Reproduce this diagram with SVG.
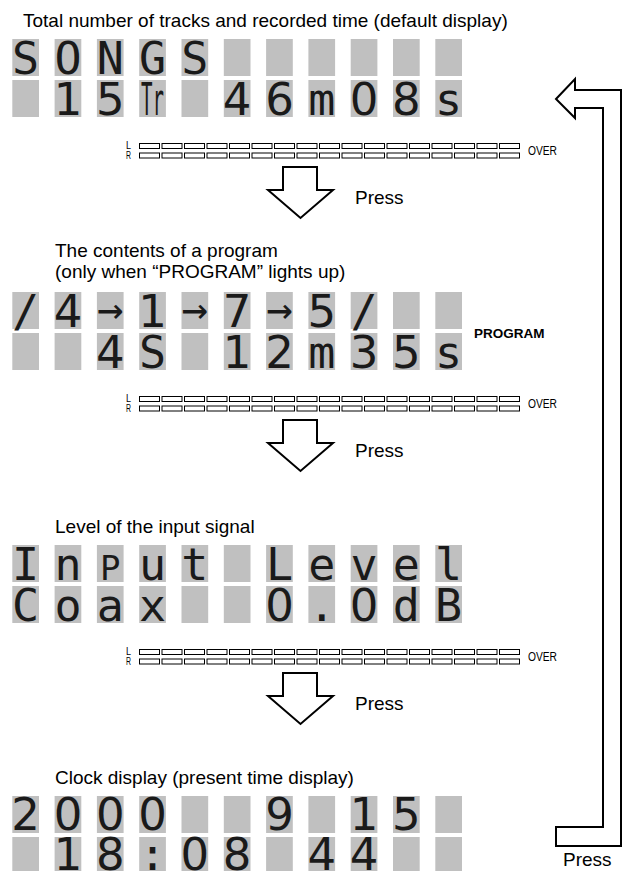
<svg xmlns="http://www.w3.org/2000/svg" xmlns:xlink="http://www.w3.org/1999/xlink" width="625" height="871" viewBox="0 0 625 871">
<style>
.bg{fill:#ffffff}
.cell{fill:#c0c0c0}
.lcd{font-family:"DejaVu Sans Mono","Liberation Mono",monospace;font-size:45px;fill:#1a1a1a;text-anchor:middle}
.dig{font-family:"DejaVu Sans","Liberation Sans",sans-serif;font-size:45px;fill:#1a1a1a;text-anchor:middle}
.arr{font-family:"DejaVu Sans Mono","Liberation Mono",monospace;font-size:44px;fill:#1a1a1a;text-anchor:middle}
.title{font-family:"Liberation Sans",Arial,sans-serif;font-size:19px;fill:#000}
.prog{font-family:"Liberation Sans",Arial,sans-serif;font-size:13.5px;font-weight:bold;fill:#000}
.mlab{font-family:"Liberation Sans",Arial,sans-serif;font-size:11px;fill:#000}
.over{font-family:"Liberation Sans",Arial,sans-serif;font-size:12px;fill:#000}
.box{fill:#fff;stroke:#000;stroke-width:1}
.bigarrow{fill:#fff;stroke:#000;stroke-width:2;stroke-linejoin:miter}
</style>
<defs>
<g id="cellrow">
<rect class="cell" x="12.3" y="0" width="26.7" height="37"/>
<rect class="cell" x="54.6" y="0" width="26.7" height="37"/>
<rect class="cell" x="96.9" y="0" width="26.7" height="37"/>
<rect class="cell" x="139.2" y="0" width="26.7" height="37"/>
<rect class="cell" x="181.5" y="0" width="26.7" height="37"/>
<rect class="cell" x="223.8" y="0" width="26.7" height="37"/>
<rect class="cell" x="266.1" y="0" width="26.7" height="37"/>
<rect class="cell" x="308.4" y="0" width="26.7" height="37"/>
<rect class="cell" x="350.7" y="0" width="26.7" height="37"/>
<rect class="cell" x="393.0" y="0" width="26.7" height="37"/>
<rect class="cell" x="435.3" y="0" width="26.7" height="37"/>
</g>
<g id="boxrow">
<rect class="box" x="139.5" y="0" width="20" height="5"/>
<rect class="box" x="162" y="0" width="20" height="5"/>
<rect class="box" x="184.5" y="0" width="20" height="5"/>
<rect class="box" x="207" y="0" width="20" height="5"/>
<rect class="box" x="229.5" y="0" width="20" height="5"/>
<rect class="box" x="252" y="0" width="20" height="5"/>
<rect class="box" x="274.5" y="0" width="20" height="5"/>
<rect class="box" x="297" y="0" width="20" height="5"/>
<rect class="box" x="319.5" y="0" width="20" height="5"/>
<rect class="box" x="342" y="0" width="20" height="5"/>
<rect class="box" x="364.5" y="0" width="20" height="5"/>
<rect class="box" x="387" y="0" width="20" height="5"/>
<rect class="box" x="409.5" y="0" width="20" height="5"/>
<rect class="box" x="432" y="0" width="20" height="5"/>
<rect class="box" x="454.5" y="0" width="20" height="5"/>
<rect class="box" x="477" y="0" width="20" height="5"/>
<rect class="box" x="499.5" y="0" width="20" height="5"/>
</g>
<g id="meter">
<use xlink:href="#boxrow" href="#boxrow" y="143.5"/>
<use xlink:href="#boxrow" href="#boxrow" y="153"/>
<text class="mlab" x="126" y="149" textLength="5" lengthAdjust="spacingAndGlyphs">L</text>
<text class="mlab" x="126" y="158.5" textLength="5" lengthAdjust="spacingAndGlyphs">R</text>
<text class="over" x="528" y="155" textLength="29" lengthAdjust="spacingAndGlyphs">OVER</text>
</g>
<path id="downarrow" class="bigarrow" d="M283,167 H317 V190 H333 L300.5,218 L268,190 H283 Z"/>
</defs>
<rect class="bg" x="0" y="0" width="625" height="871"/>

<g id="songs">
<text class="title" x="23" y="27">Total number of tracks and recorded time (default display)</text>
<use xlink:href="#cellrow" href="#cellrow" y="39"/>
<use xlink:href="#cellrow" href="#cellrow" y="80"/>
<text class="lcd" x="25.65" y="73.5">S</text>
<text class="lcd" x="67.95" y="73.5">O</text>
<text class="lcd" x="110.25" y="73.5">N</text>
<text class="lcd" x="152.55" y="73.5">G</text>
<text class="lcd" x="194.85" y="73.5">S</text>
<text class="dig" x="67.95" y="114.5">1</text>
<text class="dig" x="110.25" y="114.5">5</text>
<text class="lcd" x="152.55" y="114.5" textLength="23" lengthAdjust="spacingAndGlyphs">Tr</text>
<text class="dig" x="237.15" y="114.5">4</text>
<text class="dig" x="279.45" y="114.5">6</text>
<text class="lcd" x="321.75" y="114.5">m</text>
<text class="dig" x="364.05" y="114.5">0</text>
<text class="dig" x="406.35" y="114.5">8</text>
<text class="lcd" x="448.65" y="114.5">s</text>
</g>
<g id="meter1"><use xlink:href="#meter" href="#meter"/></g>

<g id="program">
<text class="title" x="55" y="257">The contents of a program</text>
<text class="title" x="55" y="278">(only when “PROGRAM” lights up)</text>
<use xlink:href="#cellrow" href="#cellrow" y="292"/>
<use xlink:href="#cellrow" href="#cellrow" y="333"/>
<text class="lcd" x="25.65" y="326.5">/</text>
<text class="dig" x="67.95" y="326.5">4</text>
<text class="arr" x="110.25" y="324">→</text>
<text class="dig" x="152.55" y="326.5">1</text>
<text class="arr" x="194.85" y="324">→</text>
<text class="dig" x="237.15" y="326.5">7</text>
<text class="arr" x="279.45" y="324">→</text>
<text class="dig" x="321.75" y="326.5">5</text>
<text class="lcd" x="364.05" y="326.5">/</text>
<text class="dig" x="110.25" y="367.5">4</text>
<text class="lcd" x="152.55" y="367.5">S</text>
<text class="dig" x="237.15" y="367.5">1</text>
<text class="dig" x="279.45" y="367.5">2</text>
<text class="lcd" x="321.75" y="367.5">m</text>
<text class="dig" x="364.05" y="367.5">3</text>
<text class="dig" x="406.35" y="367.5">5</text>
<text class="lcd" x="448.65" y="367.5">s</text>
<text class="prog" x="474" y="338">PROGRAM</text>
</g>
<g id="meter2"><use xlink:href="#meter" href="#meter" y="253"/></g>

<g id="inputlevel">
<text class="title" x="55" y="533">Level of the input signal</text>
<use xlink:href="#cellrow" href="#cellrow" y="545"/>
<use xlink:href="#cellrow" href="#cellrow" y="586"/>
<text class="lcd" x="25.65" y="579.5">I</text>
<text class="lcd" x="67.95" y="579.5">n</text>
<text class="lcd" x="110.25" y="579.5" style="font-size:34px">P</text>
<text class="lcd" x="152.55" y="579.5">u</text>
<text class="lcd" x="194.85" y="579.5">t</text>
<text class="lcd" x="279.45" y="579.5">L</text>
<text class="lcd" x="321.75" y="579.5">e</text>
<text class="lcd" x="364.05" y="579.5">v</text>
<text class="lcd" x="406.35" y="579.5">e</text>
<text class="lcd" x="448.65" y="579.5">l</text>
<text class="lcd" x="25.65" y="620.5">C</text>
<text class="lcd" x="67.95" y="620.5">o</text>
<text class="lcd" x="110.25" y="620.5">a</text>
<text class="lcd" x="152.55" y="620.5">x</text>
<text class="dig" x="279.45" y="620.5">0</text>
<text class="lcd" x="321.75" y="620.5">.</text>
<text class="dig" x="364.05" y="620.5">0</text>
<text class="lcd" x="406.35" y="620.5">d</text>
<text class="lcd" x="448.65" y="620.5">B</text>
</g>
<g id="meter3"><use xlink:href="#meter" href="#meter" y="506"/></g>

<g id="clock">
<text class="title" x="55" y="784">Clock display (present time display)</text>
<use xlink:href="#cellrow" href="#cellrow" y="796"/>
<use xlink:href="#cellrow" href="#cellrow" y="837"/>
<text class="dig" x="25.65" y="830">2</text>
<text class="dig" x="67.95" y="830">0</text>
<text class="dig" x="110.25" y="830">0</text>
<text class="dig" x="152.55" y="830">0</text>
<text class="dig" x="279.45" y="830">9</text>
<text class="dig" x="364.05" y="830">1</text>
<text class="dig" x="406.35" y="830">5</text>
<text class="dig" x="67.95" y="869.5">1</text>
<text class="dig" x="110.25" y="869.5">8</text>
<text class="lcd" x="152.55" y="869.5">:</text>
<text class="dig" x="194.85" y="869.5">0</text>
<text class="dig" x="237.15" y="869.5">8</text>
<text class="dig" x="321.75" y="869.5">4</text>
<text class="dig" x="364.05" y="869.5">4</text>
</g>

<g id="connectors">
<use xlink:href="#downarrow" href="#downarrow"/>
<use xlink:href="#downarrow" href="#downarrow" y="253"/>
<use xlink:href="#downarrow" href="#downarrow" y="506"/>
<path class="bigarrow" d="M556,99 L575,79 V90 H621 V846 H556 V827 H603 V108 H575 V118 Z"/>
<text class="title" x="355" y="204">Press</text>
<text class="title" x="355" y="457">Press</text>
<text class="title" x="355" y="710">Press</text>
<text class="title" x="563" y="866">Press</text>
</g>
</svg>
